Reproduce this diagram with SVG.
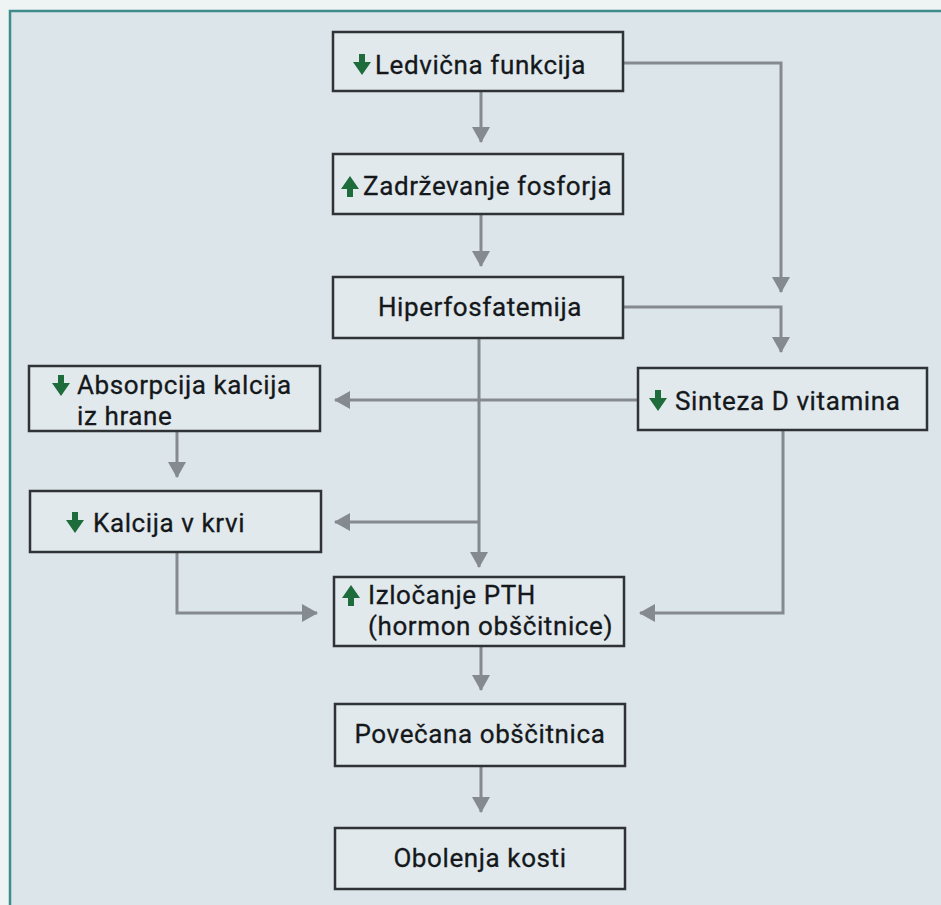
<svg xmlns="http://www.w3.org/2000/svg" width="941" height="905" viewBox="0 0 941 905">
  <defs>
    <style>
      .box { fill: #e1e9ed; stroke: #2f3336; stroke-width: 2.5; }
      .lbl { font-family: Roboto, "Liberation Sans", sans-serif; font-size: 26px; letter-spacing: 0.6px; fill: #15181b; stroke: #15181b; stroke-width: 0.3; }
      .conn { fill: none; stroke: #858a91; stroke-width: 3; marker-end: url(#ah); }
      .ico { fill: #1e6b3c; }
    </style>
    <marker id="ah" markerUnits="userSpaceOnUse" markerWidth="16" markerHeight="18" viewBox="0 0 16 18" refX="15" refY="9" orient="auto">
      <path d="M0,0 L16,9 L0,18 Z" fill="#858a91"/>
    </marker>
    <path id="dn" d="M6,0 H12 V8 H18 L9,21 L0,8 H6 Z"/>
    <path id="up" d="M9,0 L18,13 H12 V21 H6 V13 H0 Z"/>
  </defs>

  <rect x="0" y="0" width="941" height="905" fill="#eef3f3"/>
  <rect x="10" y="11" width="931" height="894" fill="#dbe5ea"/>
  <path d="M10,905 V11 H941" fill="none" stroke="#3f8a8a" stroke-width="2.5"/>

  <g id="connectors">
    <path class="conn" d="M481,91 V142"/>
    <path class="conn" d="M481,214 V266"/>
    <path class="conn" d="M623,63 H781 V292"/>
    <path class="conn" d="M623,307 H781 V352"/>
    <path class="conn" d="M479,338 V567"/>
    <path class="conn" d="M638,400 H335"/>
    <path class="conn" d="M479,522 H335"/>
    <path class="conn" d="M177,431 V477"/>
    <path class="conn" d="M177,552 V613 H317"/>
    <path class="conn" d="M783,430 V613 H640"/>
    <path class="conn" d="M481,646 V690"/>
    <path class="conn" d="M481,766 V812"/>
  </g>

  <g id="ledvicna">
    <rect class="box" x="333" y="32" width="290" height="59"/>
    <use href="#dn" class="ico" x="353" y="54"/>
    <text class="lbl" x="375" y="74">Ledvična funkcija</text>
  </g>

  <g id="zadrzevanje">
    <rect class="box" x="333" y="154" width="290" height="60"/>
    <use href="#up" class="ico" x="341" y="176"/>
    <text class="lbl" x="363" y="195">Zadrževanje fosforja</text>
  </g>

  <g id="hiperfosfatemija">
    <rect class="box" x="333" y="277" width="290" height="61"/>
    <text class="lbl" x="480" y="316" text-anchor="middle">Hiperfosfatemija</text>
  </g>

  <g id="absorpcija">
    <rect class="box" x="29" y="366" width="291" height="65"/>
    <use href="#dn" class="ico" x="52" y="375"/>
    <text class="lbl" x="77" y="394">Absorpcija kalcija</text>
    <text class="lbl" x="77" y="425">iz hrane</text>
  </g>

  <g id="sinteza">
    <rect class="box" x="638" y="368" width="289" height="62"/>
    <use href="#dn" class="ico" x="649" y="390"/>
    <text class="lbl" x="675" y="410">Sinteza D vitamina</text>
  </g>

  <g id="kalcija">
    <rect class="box" x="30" y="491" width="291" height="61"/>
    <use href="#dn" class="ico" x="66" y="512"/>
    <text class="lbl" x="93" y="532">Kalcija v krvi</text>
  </g>

  <g id="izlocanje">
    <rect class="box" x="334" y="577" width="290" height="69"/>
    <use href="#up" class="ico" x="342" y="585"/>
    <text class="lbl" x="368" y="604">Izločanje PTH</text>
    <text class="lbl" x="368" y="635">(hormon obščitnice)</text>
  </g>

  <g id="povecana">
    <rect class="box" x="335" y="704" width="290" height="62"/>
    <text class="lbl" x="480" y="743" text-anchor="middle">Povečana obščitnica</text>
  </g>

  <g id="obolenja">
    <rect class="box" x="335" y="828" width="290" height="61"/>
    <text class="lbl" x="480" y="867" text-anchor="middle">Obolenja kosti</text>
  </g>
</svg>
